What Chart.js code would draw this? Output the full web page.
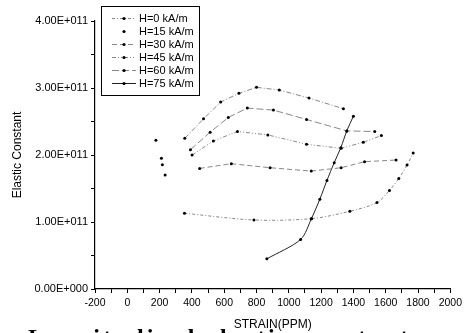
<!DOCTYPE html>
<html>
<head>
<meta charset="utf-8">
<script src="https://cdn.jsdelivr.net/npm/chart.js@4.4.1/dist/chart.umd.min.js"></script>
<style>
  html, body { margin: 0; padding: 0; background: #fff; overflow: hidden; }
  #wrap { position: relative; width: 466px; height: 333px; overflow: hidden; }
  #junk { position: absolute; left: 28px; top: 325px; font: bold 24px "Liberation Serif"; letter-spacing: 3px;
          line-height: 24px; white-space: nowrap; color: #000; }
</style>
</head>
<body>
<div id="wrap">
  <canvas id="viz" width="466" height="333"></canvas>
  <div id="junk">Longitudinal elastic constant</div>
</div>
<script>
// values (strain in ppm, elastic constant in Pa)
const h0X  = [354, 784, 1140, 1378, 1546, 1623, 1681, 1732, 1770];
const h0Y  = [1.13e11, 1.03e11, 1.05e11, 1.16e11, 1.29e11, 1.47e11, 1.65e11, 1.85e11, 2.03e11];
const h15X = [177, 211, 217, 234];
const h15Y = [2.22e11, 1.95e11, 1.855e11, 1.70e11];
const h30X = [448, 644, 884, 1139, 1324, 1469, 1664];
const h30Y = [1.80e11, 1.87e11, 1.81e11, 1.76e11, 1.81e11, 1.90e11, 1.925e11];
const h45X = [401, 533, 682, 870, 1110, 1324, 1461, 1573];
const h45Y = [2.00e11, 2.21e11, 2.35e11, 2.30e11, 2.16e11, 2.10e11, 2.19e11, 2.29e11];
const h60X = [391, 513, 625, 743, 905, 1110, 1359, 1532];
const h60Y = [2.08e11, 2.34e11, 2.56e11, 2.70e11, 2.67e11, 2.53e11, 2.36e11, 2.35e11];
const topX = [356, 472, 578, 691, 800, 941, 1125, 1338];
const topY = [2.25e11, 2.54e11, 2.79e11, 2.92e11, 3.01e11, 2.97e11, 2.85e11, 2.69e11];
const h75X = [864, 1073, 1140, 1192, 1236, 1281, 1322, 1359, 1400];
const h75Y = [0.45e11, 0.74e11, 1.05e11, 1.34e11, 1.62e11, 1.885e11, 2.11e11, 2.36e11, 2.58e11];

const xTicksMin = -200, xTicksMax = 2000;
const yTicksMin = 0, yTicksMax = 4e11;

const pts = (xs, ys) => xs.map((x, i) => ({ x, y: ys[i] }));

// 1.00E+011 style
function sci(v){
  if (v === 0) return '0.00E+000';
  const [m, e] = v.toExponential(2).split('e');
  const n = +e;
  return m + 'E' + (n < 0 ? '-' : '+') + String(Math.abs(n)).padStart(3, '0');
}

function ds(label, data, dash, extra){
  return Object.assign({
    label, data,
    borderColor: '#7a7a7a', borderWidth: 0.9, borderDash: dash,
    pointRadius: 1.5, pointBackgroundColor: '#000', pointBorderColor: '#000', pointBorderWidth: 0,
    showLine: true, tension: 0
  }, extra || {});
}

const datasets = [
  ds('H=0 kA/m',  pts(h0X, h0Y),  [3, 2, 1, 2], { tension: 0.3 }),
  ds('H=15 kA/m', pts(h15X, h15Y), [], { showLine: false }),
  ds('H=30 kA/m', pts(h30X, h30Y), [5, 3]),
  ds('H=45 kA/m', pts(h45X, h45Y), [4, 2, 1, 2, 1, 2]),
  ds('H=60 kA/m', pts(h60X, h60Y), [7, 3]),
  ds('',          pts(topX, topY), [5, 2, 1, 2]),
  ds('H=75 kA/m', pts(h75X, h75Y), [], { borderColor: '#222', borderWidth: 1, tension: 0.3 })
];

// legend box drawn inside the plot, like the original
const boxLegend = {
  id: 'boxLegend',
  afterDraw(chart){
    const c = chart.ctx;
    c.save();
    c.strokeStyle = '#000';
    c.lineWidth = 1;
    c.strokeRect(101.5, 6.5, 98, 89);
    c.font = '11px "Liberation Sans"';
    c.textBaseline = 'middle';
    c.fillStyle = '#000';
    let row = 0;
    chart.data.datasets.forEach(d => {
      if (!d.label) return;
      const y = 18.5 + row * 13;
      if (d.showLine !== false){
        c.strokeStyle = d.borderColor;
        c.lineWidth = d.borderWidth;
        c.setLineDash(d.borderDash);
        c.beginPath(); c.moveTo(112, y); c.lineTo(136, y); c.stroke();
        c.setLineDash([]);
      }
      c.beginPath(); c.arc(124, y, 1.6, 0, Math.PI * 2); c.fill();
      c.fillText(d.label, 139, y);
      row++;
    });
    c.restore();
  }
};

const axisFont = { family: 'Liberation Sans', size: 10.5 };

new Chart(document.getElementById('viz').getContext('2d'), {
  type: 'scatter',
  data: { datasets },
  plugins: [boxLegend],
  options: {
    responsive: false,
    animation: false,
    layout: { padding: { top: 21, right: 11, left: 0, bottom: 0 } },
    plugins: { legend: { display: false }, tooltip: { enabled: false } },
    scales: {
      x: {
        type: 'linear', min: xTicksMin, max: xTicksMax,
        border: { color: '#000', width: 1.2 },
        grid: { drawOnChartArea: false, drawTicks: true, tickLength: 4, color: '#000' },
        ticks: { stepSize: 100, autoSkip: false, maxRotation: 0, color: '#000', font: axisFont, padding: 4,
                 callback: v => (v % 200 === 0 ? String(v) : '') },
        title: { display: true, text: 'STRAIN(PPM)', color: '#000', font: { family: 'Liberation Sans', size: 12 },
                 padding: { top: 0, bottom: 1 } },
        afterFit: s => { s.height = 44; }
      },
      y: {
        type: 'linear', min: yTicksMin, max: yTicksMax,
        border: { color: '#000', width: 1.2 },
        grid: { drawOnChartArea: false, drawTicks: true, tickLength: 4, color: '#000' },
        ticks: { stepSize: 5e10, autoSkip: false, color: '#000', font: { family: 'Liberation Sans', size: 11 }, padding: 3,
                 callback: v => (Math.round(v / 5e10) % 2 === 0 ? sci(v) : '') },
        title: { display: true, text: 'Elastic Constant', color: '#000', font: { family: 'Liberation Sans', size: 12 },
                 padding: { top: 10, bottom: 0 } },
        afterFit: s => { s.width = 95; }
      }
    }
  }
});
</script>
</body>
</html>
